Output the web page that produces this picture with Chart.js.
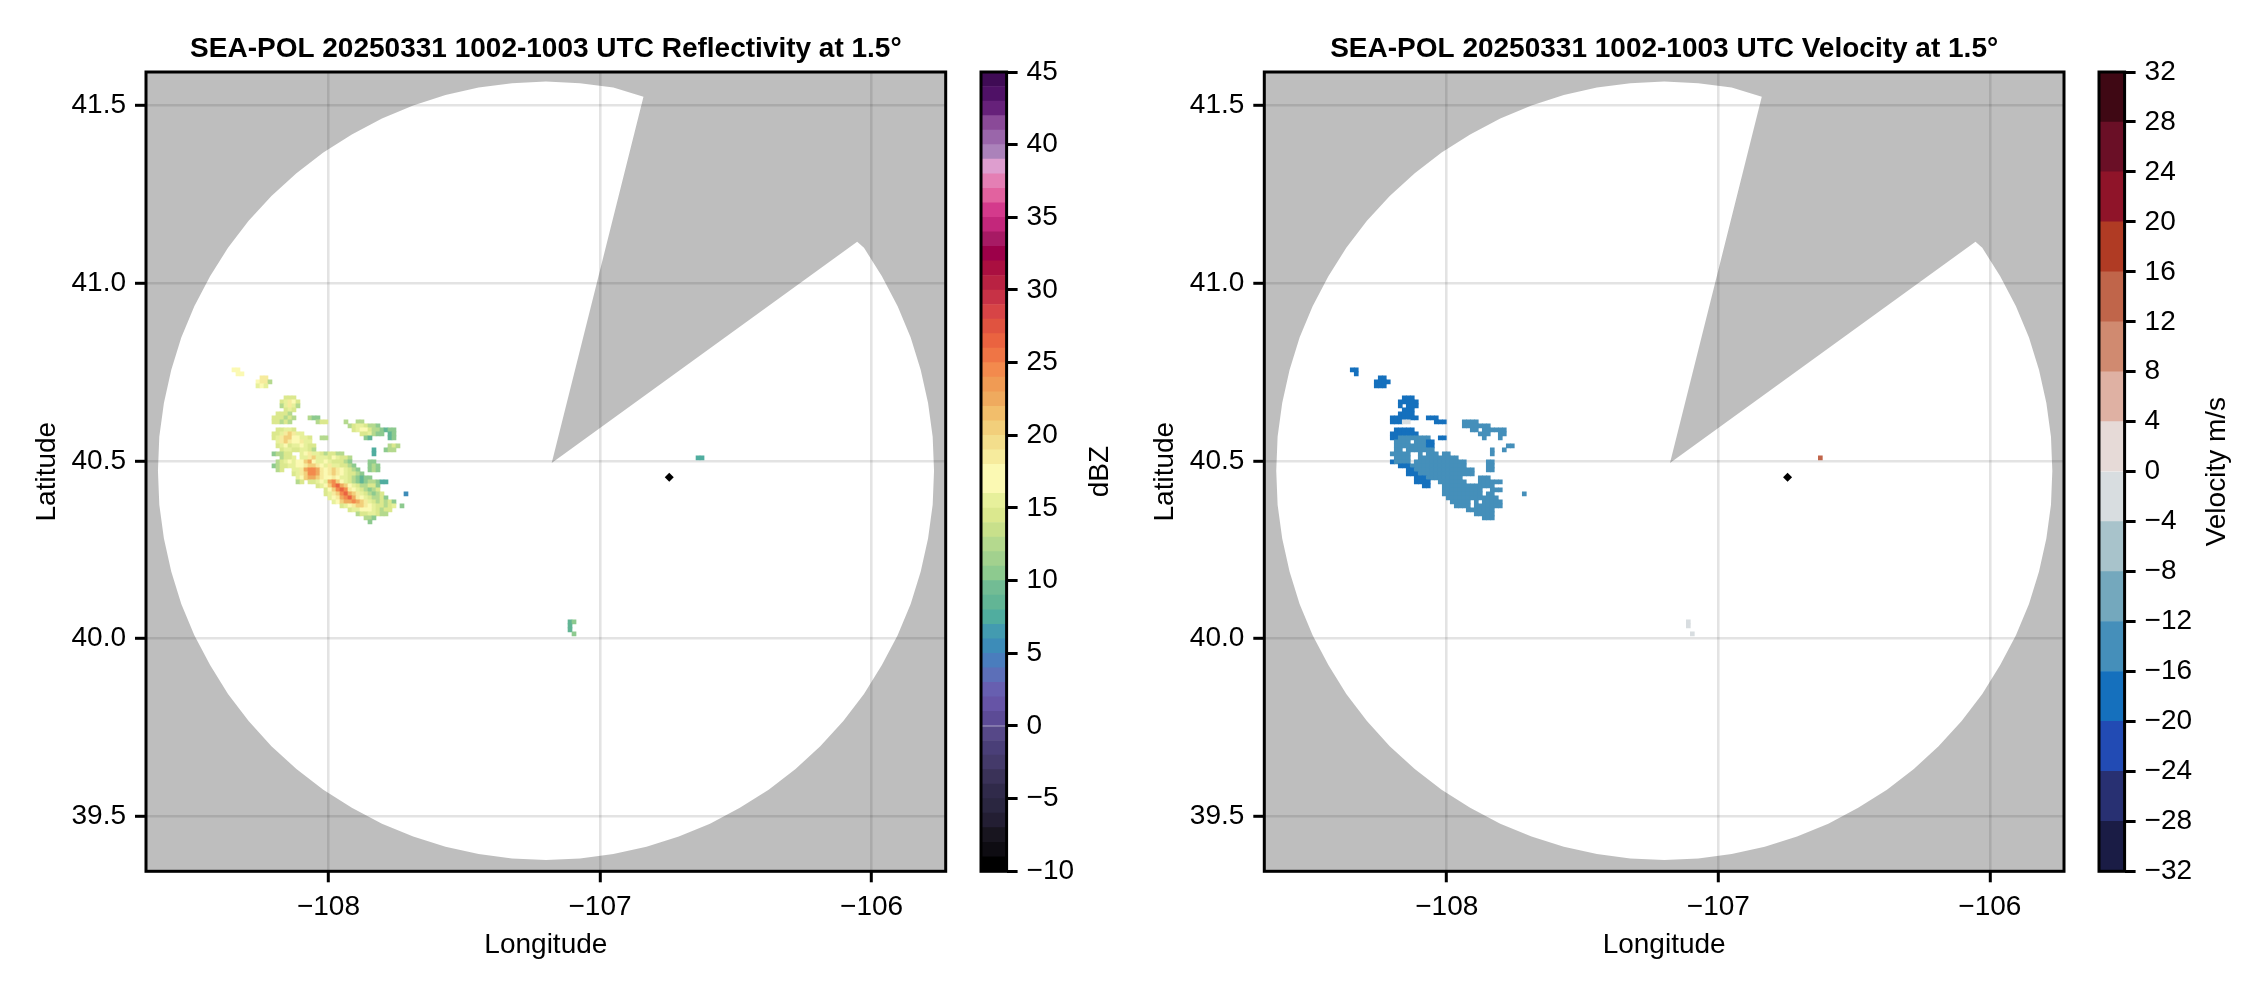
<!DOCTYPE html>
<html><head><meta charset="utf-8">
<script src="https://cdn.jsdelivr.net/npm/chart.js@4"></script>
<style>html,body{margin:0;padding:0;background:#fff;width:2262px;height:990px;overflow:hidden}canvas{position:absolute;top:0}</style>
</head><body>
<canvas id="p1" width="960" height="990" style="left:0;width:960px;height:990px"></canvas>
<canvas id="c1" width="158" height="990" style="left:960px;width:158px;height:990px"></canvas>
<canvas id="p2" width="960" height="990" style="left:1118px;width:960px;height:990px"></canvas>
<canvas id="c2" width="184" height="990" style="left:2078px;width:184px;height:990px"></canvas>
<script>
const lonTicks = [-108, -107, -106];
const latTicks = [39.5, 40.0, 40.5, 41.0, 41.5];
const radarLon = [-106.745];
const radarLat = [40.454];

// Edge of the scanned area, from the east side of the gap clockwise
const coverageLon = [-106.053,-106.028,-105.962,-105.904,-105.856,-105.819,-105.792,-105.775,-105.770,-105.775,-105.792,-105.819,-105.856,-105.904,-105.962,-106.028,-106.104,-106.189,-106.280,-106.379,-106.485,-106.595,-106.710,-106.829,-106.951,-107.074,-107.199,-107.324,-107.447,-107.569,-107.688,-107.803,-107.914,-108.019,-108.118,-108.210,-108.294,-108.370,-108.436,-108.494,-108.542,-108.579,-108.606,-108.623,-108.628,-108.623,-108.606,-108.579,-108.542,-108.494,-108.436,-108.370,-108.294,-108.210,-108.118,-108.019,-107.914,-107.803,-107.688,-107.569,-107.447,-107.324,-107.199,-107.074,-106.951,-106.840,-107.178,-106.053];
const coverageLat = [41.117,41.100,41.020,40.935,40.847,40.756,40.663,40.568,40.472,40.376,40.281,40.188,40.097,40.009,39.925,39.843,39.767,39.696,39.632,39.574,39.523,39.478,39.442,39.413,39.393,39.380,39.376,39.380,39.393,39.413,39.442,39.478,39.523,39.574,39.632,39.696,39.767,39.843,39.925,40.009,40.097,40.188,40.281,40.376,40.472,40.568,40.663,40.756,40.847,40.935,41.020,41.100,41.176,41.246,41.310,41.368,41.419,41.464,41.501,41.530,41.551,41.563,41.568,41.563,41.551,41.525,40.494,41.117];

// Colour bins, low end upward
const dbzColors = ['#000000','#0e0c12','#18151f','#231e33','#2a2640','#302a4a','#3a3258','#443a6a','#4a3f78','#564888','#5c4b96','#6654a6','#675fb0','#5c6fb8','#4a7dbd','#3d8cb8','#439bb0','#50ad9f','#62b595','#72bc94','#8dca8f','#a2d18e','#b4d98e','#c8e08b','#dbe88e','#e7f09b','#fbf9b3','#fbf9b3','#f6eb9d','#f3de8c','#f2cf7b','#f2be6b','#efaa5e','#f09b54','#f38a4d','#ef7545','#ea6340','#e05340','#d74446','#c73246','#b92242','#aa0f40','#9c0049','#a71a64','#c3277b','#d43a8c','#e2629f','#e47fb4','#de9ecf','#ab82ba','#9a66aa','#8a4a98','#66217a','#4f1166','#3f0b55'];
const velColors = ['#1a1c45','#283072','#224bb4','#1570bd','#458fba','#74a8bd','#a8c3cb','#d8dde0','#e6dad7','#dfb1a3','#d08a70','#c0654a','#b03b24','#8f1429','#6a0f26','#3f0814'];

// Letter codes for the reflectivity cells (dBZ) and velocity cells (m/s)
const dbzKey = {A:5.5,z:7.5,a:8.5,b:10.5,c:12.5,d:14.5,e:15.5,f:16.5,g:18.5,h:20.5,i:22.5,j:24.5,k:26.5};
const velKey = {m:-14,n:-18,p:-10,g:-2,r:14};

// Runs of cells: row, first column, one letter per cell ("." = no echo)
const dbzRuns = [
[7,8,"ff"],[8,9,"ff"],[9,15,"gg"],[10,14,"fggc"],[11,14,"efe"],
[14,21,"ddd"],[15,20,"degfd"],[16,20,"cegec"],[17,21,"ded"],
[18,19,"dddc"],[19,18,"dddcdc"],[19,27,"cbb"],[20,18,"ddcdc"],[20,29,"cdd"],[20,36,"c"],[20,39,"cc"],
[21,37,"cdeedccb"],[22,19,"ddeed"],[22,38,"deffdccb"],[22,46,"abb"],
[23,18,"ddeghgee"],[23,40,"ddecbb"],[23,47,"ab"],[24,18,"deghhffeed"],[24,30,"cc"],[24,41,"ba"],[24,47,"ab"],
[25,19,"eghgffgee"],[26,19,"defdeefedd"],[26,47,"cdc"],[27,20,"deeddeedc"],[27,43,"z"],[27,46,"bcc"],
[28,18,"bccdd..efgeedcddcc"],[28,43,"z"],[29,20,"cdde.eegheeedfeddc"],[29,124,"zz"],
[30,19,"cdefeffhifeefedddcb"],[30,42,"bb"],[31,18,"bcddeeffghhgfegeeddcb"],[31,42,"bcb"],
[32,19,"cd"],[32,23,"eegijjigfghgfedcb"],[32,42,"bcb"],[33,23,"deghjjigfghgfeddcb"],
[34,24,"efhiihgffgfeedcb"],[34,40,"abb"],[35,24,"cd"],[35,27,"ddefeijhfedcbabccb"],[35,45,"zz"],
[36,29,"defhjkihfedccddb"],[37,31,"dfhjkjgfedcbcd"],[38,31,"deghjkihgedcbcd"],[38,51,"A"],
[39,32,"efgijkigfedc"],[39,44,"cdb"],[40,33,"efhiijihgedcdcdb"],[41,35,"defghhgfeddcde.b"],
[42,37,"deefffedcdd"],[43,39,"cddeedcc"],[44,41,"ccb"],[45,42,"b"],
[70,92,"ab"],[71,92,"a"],[72,92,"a"],[73,93,"b"]
];
const velRuns = [
[7,8,"nn"],[8,9,"n"],[9,15,"nn"],[10,14,"nnnn"],[11,14,"nnn"],
[14,21,"nnn"],[15,20,"nnnnn"],[16,20,"n.nnn"],[17,21,"nnn"],
[18,20,"nnnn"],[19,18,"nnnnnnn"],[19,27,"nnn"],[20,18,"nnngg"],[20,29,"nnn"],[20,36,"mmm"],[20,39,"m"],
[21,36,"mmmmmmm"],[22,19,"nnnnn"],[22,38,"mm.mmm"],[22,44,"mmm"],
[23,18,"nnnnnnn"],[23,40,"mmm"],[23,45,"mm"],[24,18,"nnmmmmmmmm"],[24,30,"nn"],[24,41,"m"],[24,45,"m"],
[25,19,"mmmm.mmmnn"],[26,19,"mmmmmmmmnn"],[26,47,"mm"],[27,19,"mm.mmmmmmm"],[27,43,"m"],[27,46,"m"],
[28,18,"mmmmm..m.mmm.mm"],[28,43,"m"],[29,19,"mmmm..mmmmmmmmmm"],[29,125,"r"],
[30,18,"nmmmm.mmmmmmmmmmmmm"],[30,42,"mm"],[31,20,"nnnmmmmmmmmmmmmmm"],[31,42,"mm"],
[32,22,"nnmmmmmmmmmmmmmmm"],[32,42,"mm"],[33,22,"nnnmmmmmmmmmmmmmm"],
[34,24,"nnnmmmmmmmmm....mmm"],[35,24,"nnnn..mmmmmmm...mmmmmm"],
[36,26,"nn...mmmmmmmmmmmmm"],[37,31,"mmmmmmmmmm..mmm"],[38,31,"mmmmmmmmmm.mm"],[38,51,"m"],
[39,32,"mmmmmmmmmmmmm"],[40,33,"mmmmm.m.mmmmm"],[41,34,"mmmm.mmmmmmm"],
[42,37,"mmmmmmm"],[43,39,"mmmmm"],[44,41,"mmm"],
[70,92,"g"],[71,92,"g"],[73,93,"g"]
];

const xMin=-108.672, xMax=-105.727, yMin=39.344, yMax=41.595;
const cellLon0=-108.4733, cellLat0=40.8408, cellLonStep=0.014733, cellLatStep=0.011268;

const FONT='"Liberation Sans", Arial, sans-serif';
const TICK=28, LABEL=28, TITLE=28;
const minus = v => String(v).replace('-','\u2212');

function cells(runs,key){
  const out=[];
  for(const [r,c,s] of runs){
    [...s].forEach((ch,i)=>{
      if(ch==='.')return;
      out.push({x:cellLon0+(c+i+0.5)*cellLonStep,y:cellLat0-(r+0.5)*cellLatStep,v:key[ch]});
    });
  }
  return out;
}
const frame={id:'frame',afterDatasetsDraw(ch){
  const a=ch.chartArea,c=ch.ctx;c.save();c.strokeStyle='#000';c.lineWidth=3;
  c.strokeRect(a.left,a.top,a.right-a.left,a.bottom-a.top);c.restore();}};

function panel(id,title,data,colorOf,leftW,rightPad){
  const mask=[{x:xMax,y:yMax},{x:xMin,y:yMax},{x:xMin,y:yMin},{x:xMax,y:yMin},{x:xMax,y:yMax}]
    .concat(coverageLon.map((x,i)=>({x,y:coverageLat[i]})));
  mask.push({x:xMax,y:yMax});
  const axisBase={border:{display:false},
    grid:{color:'rgba(0,0,0,0.11)',lineWidth:2.6,tickColor:'#000',tickWidth:3,tickLength:11,z:-1}};
  new Chart(document.getElementById(id),{
    type:'scatter',
    data:{datasets:[
      {data:[{x:radarLon[0],y:radarLat[0]}],pointStyle:'rectRot',pointRadius:4.5,pointBackgroundColor:'#000',pointBorderWidth:0,showLine:false},
      {data,pointStyle:'rect',pointRadius:3.3,pointBorderWidth:0,showLine:false,
       pointBackgroundColor:data.map(d=>colorOf(d.v))},
      {data:mask,showLine:true,fill:'shape',backgroundColor:'rgba(0,0,0,0.255)',borderWidth:0,borderColor:'rgba(0,0,0,0)',pointRadius:0,tension:0}
    ]},
    options:{responsive:false,animation:false,devicePixelRatio:1,
      layout:{padding:{left:0,right:rightPad,top:0,bottom:0}},
      plugins:{legend:{display:false},tooltip:{enabled:false},
        title:{display:true,text:title,fullSize:false,color:'#000',font:{family:FONT,size:TITLE,weight:'bold',lineHeight:1},padding:{top:35,bottom:9}}},
      scales:{
        x:{...axisBase,type:'linear',min:xMin,max:xMax,
          afterBuildTicks:s=>{s.ticks=lonTicks.map(value=>({value}));},
          afterFit:s=>{s.height=118.7;},
          ticks:{color:'#000',font:{family:FONT,size:TICK},padding:8,maxRotation:0,callback:minus},
          title:{display:true,text:'Longitude',color:'#000',font:{family:FONT,size:LABEL,lineHeight:1},padding:{top:0,bottom:31}}},
        y:{...axisBase,type:'linear',min:yMin,max:yMax,
          afterBuildTicks:s=>{s.ticks=latTicks.map(value=>({value}));},
          afterFit:s=>{s.width=leftW;},
          ticks:{color:'#000',font:{family:FONT,size:TICK},padding:9,callback:v=>v.toFixed(1)},
          title:{display:true,text:'Latitude',color:'#000',font:{family:FONT,size:LABEL,lineHeight:1},padding:{top:33,bottom:0}}}
      }},
    plugins:[frame]});
}

function colorbar(id,colors,lo,step,tickStep,label,labelX,canvasW){
  const ds=colors.map((c,i)=>({data:[[lo+i*step,lo+(i+1)*step]],backgroundColor:c,borderWidth:0,grouped:false,
    barPercentage:1,categoryPercentage:1}));
  const side={id:'side',afterDraw(ch){
    const c=ch.ctx,a=ch.chartArea;c.save();c.fillStyle='#000';c.font='28px '+FONT;c.textAlign='center';c.textBaseline='middle';
    c.translate(labelX,(a.top+a.bottom)/2);c.rotate(-Math.PI/2);c.fillText(label,0,0);c.restore();}};
  new Chart(document.getElementById(id),{
    type:'bar',
    data:{labels:[''],datasets:ds},
    options:{responsive:false,animation:false,devicePixelRatio:1,
      layout:{padding:{left:21,right:0,top:72,bottom:0}},
      plugins:{legend:{display:false},tooltip:{enabled:false}},
      scales:{
        x:{display:true,grid:{display:false},border:{display:false},ticks:{display:false},afterFit:s=>{s.height=118.7;}},
        y:{position:'right',min:lo,max:lo+colors.length*step,border:{display:false},
          grid:{drawOnChartArea:false,tickColor:'#000',tickWidth:3,tickLength:11},
          afterFit:s=>{s.width=canvasW-21-25.6;},
          ticks:{stepSize:tickStep,color:'#000',font:{family:FONT,size:TICK},padding:9,callback:minus}}
      }},
    plugins:[frame,side]});
}

const dbzColor=v=>dbzColors[Math.floor(v+10)];
const velColor=v=>velColors[Math.floor((v+32)/4)];
panel('p1','SEA-POL 20250331 1002-1003 UTC Reflectivity at 1.5°',cells(dbzRuns,dbzKey),dbzColor,146,14.3);
panel('p2','SEA-POL 20250331 1002-1003 UTC Velocity at 1.5°',cells(velRuns,velKey),velColor,146.3,14);
colorbar('c1',dbzColors,-10,1,5,'dBZ',140,158);
colorbar('c2',velColors,-32,4,4,'Velocity m/s',139,184);
</script>
</body></html>
